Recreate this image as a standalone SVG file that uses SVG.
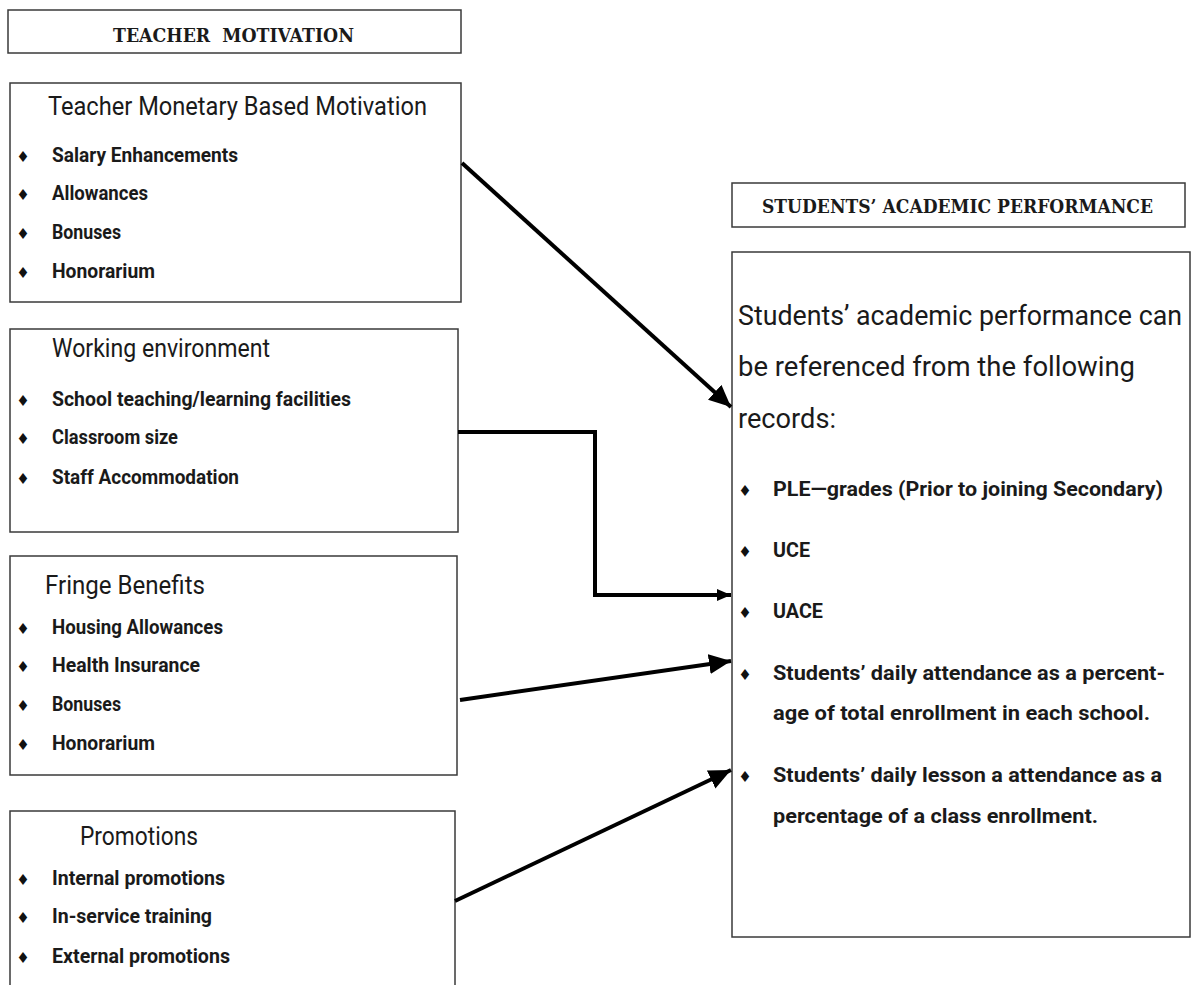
<svg xmlns="http://www.w3.org/2000/svg" width="1191" height="985" viewBox="0 0 1191 985">
<style>
.box{fill:#fff;stroke:#3a3a3a;stroke-width:1.5}
.hdr{font-family:"DejaVu Serif","Liberation Serif",serif;font-weight:bold;fill:#1a1a1a;white-space:pre}
.ttl{font-family:Roboto,"DejaVu Sans",sans-serif;font-size:25px;fill:#1a1a1a}
.itm{font-family:Roboto,"DejaVu Sans",sans-serif;font-size:20px;font-weight:bold;fill:#1a1a1a}
.big{font-family:Roboto,"DejaVu Sans",sans-serif;font-size:27px;fill:#1a1a1a}
.ritm{font-family:Roboto,"DejaVu Sans",sans-serif;font-size:21px;font-weight:bold;fill:#1a1a1a}
.bul{font-family:"DejaVu Sans",sans-serif;font-size:15px;fill:#111;text-anchor:middle}
.conn{fill:none;stroke:#000;stroke-width:4}
</style>
<defs>
<marker id="ah" markerUnits="userSpaceOnUse" markerWidth="24" markerHeight="22" refX="22" refY="10" orient="auto">
<path d="M0,0 L22,10 L0,20 Z" fill="#000"/>
</marker>
<marker id="ahs" markerUnits="userSpaceOnUse" markerWidth="16" markerHeight="14" refX="14" refY="6" orient="auto">
<path d="M0,0 L14,6 L0,12 Z" fill="#000"/>
</marker>
</defs>

<g id="teacher-motivation-header">
<rect class="box" x="8" y="10" width="453" height="43"/>
<text class="hdr" x="113" y="42" font-size="19" textLength="241" lengthAdjust="spacingAndGlyphs">TEACHER  MOTIVATION</text>
</g>

<g id="monetary">
<rect class="box" x="10" y="83" width="451" height="219"/>
<text class="ttl" x="48" y="115" textLength="379" lengthAdjust="spacingAndGlyphs">Teacher Monetary Based Motivation</text>
<text class="bul" x="23" y="162">♦</text><text class="itm" x="52" y="162" textLength="186" lengthAdjust="spacingAndGlyphs">Salary Enhancements</text>
<text class="bul" x="23" y="200">♦</text><text class="itm" x="52" y="200" textLength="96" lengthAdjust="spacingAndGlyphs">Allowances</text>
<text class="bul" x="23" y="239">♦</text><text class="itm" x="52" y="239" textLength="69" lengthAdjust="spacingAndGlyphs">Bonuses</text>
<text class="bul" x="23" y="278">♦</text><text class="itm" x="52" y="278" textLength="103" lengthAdjust="spacingAndGlyphs">Honorarium</text>
</g>

<g id="working-environment">
<rect class="box" x="10" y="329" width="448" height="203"/>
<text class="ttl" x="52" y="357" textLength="218" lengthAdjust="spacingAndGlyphs">Working environment</text>
<text class="bul" x="23" y="406">♦</text><text class="itm" x="52" y="406" textLength="299" lengthAdjust="spacingAndGlyphs">School teaching/learning facilities</text>
<text class="bul" x="23" y="444">♦</text><text class="itm" x="52" y="444" textLength="126" lengthAdjust="spacingAndGlyphs">Classroom size</text>
<text class="bul" x="23" y="484">♦</text><text class="itm" x="52" y="484" textLength="187" lengthAdjust="spacingAndGlyphs">Staff Accommodation</text>
</g>

<g id="fringe-benefits">
<rect class="box" x="10" y="556" width="447" height="219"/>
<text class="ttl" x="45" y="594" textLength="160" lengthAdjust="spacingAndGlyphs">Fringe Benefits</text>
<text class="bul" x="23" y="634">♦</text><text class="itm" x="52" y="634" textLength="171" lengthAdjust="spacingAndGlyphs">Housing Allowances</text>
<text class="bul" x="23" y="672">♦</text><text class="itm" x="52" y="672" textLength="148" lengthAdjust="spacingAndGlyphs">Health Insurance</text>
<text class="bul" x="23" y="711">♦</text><text class="itm" x="52" y="711" textLength="69" lengthAdjust="spacingAndGlyphs">Bonuses</text>
<text class="bul" x="23" y="750">♦</text><text class="itm" x="52" y="750" textLength="103" lengthAdjust="spacingAndGlyphs">Honorarium</text>
</g>

<g id="promotions">
<rect class="box" x="10" y="811" width="445" height="200"/>
<text class="ttl" x="80" y="845" textLength="118" lengthAdjust="spacingAndGlyphs">Promotions</text>
<text class="bul" x="23" y="885">♦</text><text class="itm" x="52" y="885" textLength="173" lengthAdjust="spacingAndGlyphs">Internal promotions</text>
<text class="bul" x="23" y="923">♦</text><text class="itm" x="52" y="923" textLength="160" lengthAdjust="spacingAndGlyphs">In-service training</text>
<text class="bul" x="23" y="963">♦</text><text class="itm" x="52" y="963" textLength="178" lengthAdjust="spacingAndGlyphs">External promotions</text>
</g>

<g id="students-performance-header">
<rect class="box" x="732" y="183" width="453" height="44"/>
<text class="hdr" x="762" y="213" font-size="18" textLength="391" lengthAdjust="spacingAndGlyphs">STUDENTS’ ACADEMIC PERFORMANCE</text>
</g>

<g id="students-performance">
<rect class="box" x="732" y="252" width="458" height="685"/>
<text class="big" x="738" y="325" textLength="444" lengthAdjust="spacingAndGlyphs">Students’ academic performance can</text>
<text class="big" x="738" y="376" textLength="397" lengthAdjust="spacingAndGlyphs">be referenced from the following</text>
<text class="big" x="738" y="428" textLength="98" lengthAdjust="spacingAndGlyphs">records:</text>
<text class="bul" x="745" y="496">♦</text><text class="ritm" x="773" y="496" textLength="390" lengthAdjust="spacingAndGlyphs">PLE—grades (Prior to joining Secondary)</text>
<text class="bul" x="745" y="557">♦</text><text class="ritm" x="773" y="557" textLength="37" lengthAdjust="spacingAndGlyphs">UCE</text>
<text class="bul" x="745" y="618">♦</text><text class="ritm" x="773" y="618" textLength="50" lengthAdjust="spacingAndGlyphs">UACE</text>
<text class="bul" x="745" y="680">♦</text><text class="ritm" x="773" y="680" textLength="392" lengthAdjust="spacingAndGlyphs">Students’ daily attendance as a percent-</text>
<text class="ritm" x="773" y="720" textLength="377" lengthAdjust="spacingAndGlyphs">age of total enrollment in each school.</text>
<text class="bul" x="745" y="782">♦</text><text class="ritm" x="773" y="782" textLength="389" lengthAdjust="spacingAndGlyphs">Students’ daily lesson a attendance as a</text>
<text class="ritm" x="773" y="823" textLength="325" lengthAdjust="spacingAndGlyphs">percentage of a class enrollment.</text>
</g>

<g id="connectors">
<line class="conn" x1="462" y1="163" x2="731" y2="407" marker-end="url(#ah)"/>
<polyline class="conn" points="458,432 595,432 595,595 731,595" marker-end="url(#ahs)"/>
<line class="conn" x1="460" y1="700" x2="731" y2="661" stroke-width="5" marker-end="url(#ah)"/>
<line class="conn" x1="455" y1="901" x2="731" y2="770" marker-end="url(#ah)"/>
</g>
</svg>
